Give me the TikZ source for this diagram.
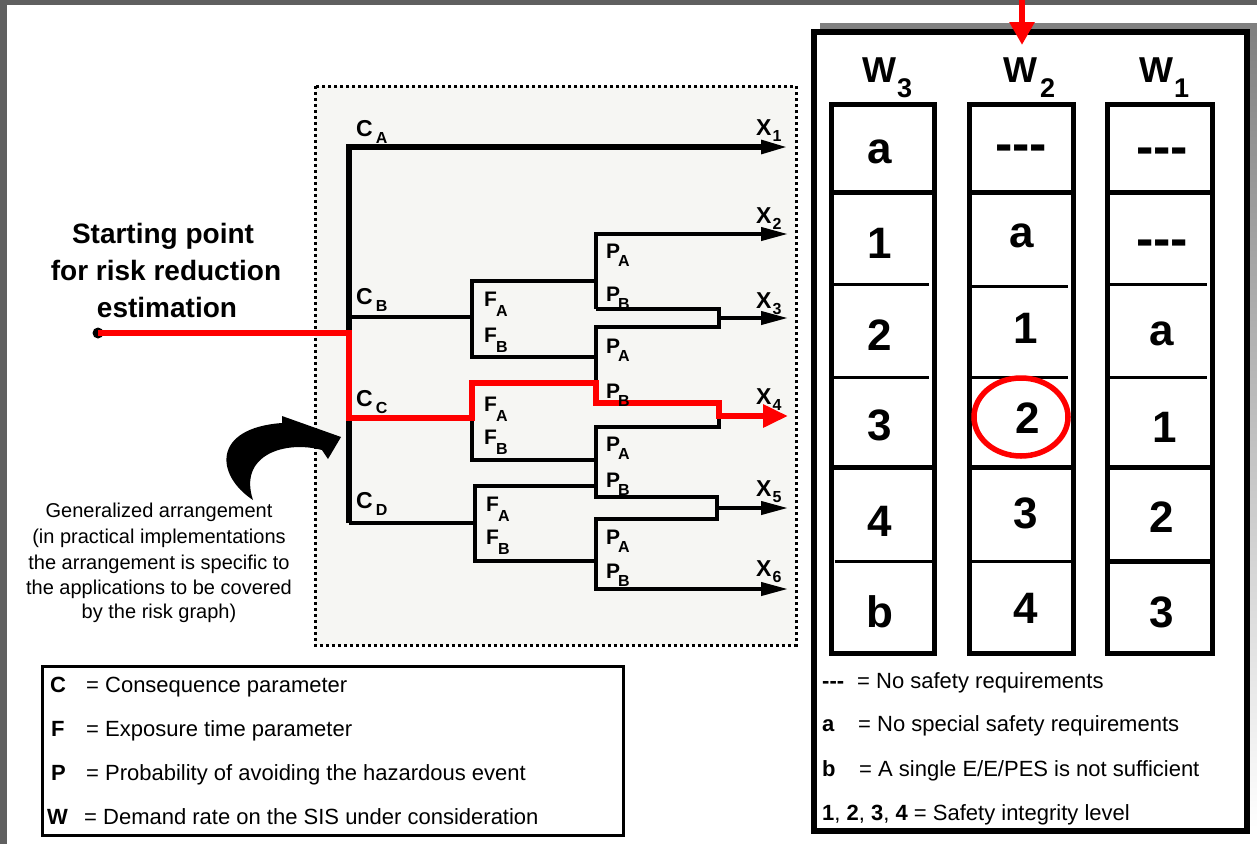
\documentclass[tikz,border=0pt]{standalone}
\usepackage{fontspec}
\setmainfont{Liberation Sans}
\usetikzlibrary{arrows.meta}
\definecolor{framegray}{HTML}{606060}
\definecolor{shade}{HTML}{C2C2B4}
\definecolor{panel}{HTML}{F6F6F3}
\definecolor{hired}{HTML}{FF0000}
\newcommand\fs[1]{\fontsize{#1}{#1}\selectfont}
% main letter, subscript, main size, kern, drop
\newcommand\lab[5]{{\fs{#3}\bfseries #1}\kern#4\raisebox{-#5}{\fs{16}\bfseries #2}}
\begin{document}
\begin{tikzpicture}[x=1pt,y=-1pt,
  trunk/.style={line width=5.5pt},
  branch/.style={line width=4pt},
  tipb/.style={-{Triangle[length=27pt,width=13pt]}},
  redp/.style={draw=hired,line width=6pt},
  lbl/.style={anchor=base west,inner sep=0pt},
  cell/.style={anchor=base,inner sep=0pt,font=\fs{44}\bfseries},
  dashcell/.style={anchor=base,inner sep=0pt,font=\fs{52}\bfseries},
  leg/.style={anchor=base west,inner sep=0pt,font=\fs{22}},
  txt/.style={anchor=base,inner sep=0pt},
  colbox/.style={line width=5pt},
  thickdiv/.style={line width=5pt},
  thindiv/.style={line width=3pt},
]
\useasboundingbox (0,0) rectangle (1257,844);
\fill[white] (0,0) rectangle (1257,844);
\fill[framegray] (0,0) rectangle (7,844);
\fill[framegray] (0,0) rectangle (1257,4.5);

% ---------- dotted panel ----------
\draw[line width=3pt, dash pattern=on 3pt off 3pt, fill=panel] (315,86) rectangle (796,645);

% ---------- coordinates of the tree ----------
\coordinate (cA) at (349,147);
\coordinate (cD) at (349,523);
\coordinate (x1) at (788,147);
\coordinate (cB) at (349,317);
\coordinate (f1) at (472,317);
\coordinate (f1a) at (472,281);
\coordinate (f1b) at (472,357);
\coordinate (q1a) at (596,281);
\coordinate (q1b) at (596,357);
\coordinate (cC) at (349,418);
\coordinate (f2) at (472,418);
\coordinate (f2a) at (472,383);
\coordinate (f2b) at (472,460);
\coordinate (q2a) at (596,383);
\coordinate (q2b) at (596,460);
\coordinate (f3) at (475,523);
\coordinate (f3a) at (475,486);
\coordinate (f3b) at (475,561);
\coordinate (q3a) at (596,486);
\coordinate (q3b) at (596,561);
\coordinate (pa1) at (596,234);
\coordinate (x2) at (788,234);
\coordinate (pb1) at (596,309);
\coordinate (m1a) at (719,309);
\coordinate (m1b) at (719,327);
\coordinate (pa2) at (596,327);
\coordinate (pb2) at (596,403);
\coordinate (m2a) at (719,403);
\coordinate (m2b) at (719,427);
\coordinate (pa3) at (596,427);
\coordinate (pb3) at (596,497);
\coordinate (m3a) at (717,497);
\coordinate (m3b) at (717,519);
\coordinate (pa4) at (596,519);
\coordinate (pb4) at (596,589);
\coordinate (x6) at (788,589);
\coordinate (m1) at (719,318);
\coordinate (x3) at (788,318);
\coordinate (m2) at (719,416);
\coordinate (x4) at (788,416);
\coordinate (m3) at (717,508);
\coordinate (x5) at (788,508);
\coordinate (r1) at (349,333);

% ---------- tree ----------
\draw[trunk,tipb] (cD) -- (cA) -- (x1);
\draw[branch] (cB) -- (f1);
\draw[branch] (q1a) -- (f1a) -- (f1b) -- (q1b);
\draw[branch] (cC) -- (f2);
\draw[branch] (q2a) -- (f2a) -- (f2b) -- (q2b);
\draw[branch] (cD) -- (f3);
\draw[branch] (q3a) -- (f3a) -- (f3b) -- (q3b);
\draw[branch,tipb] (pb1) -- (pa1) -- (x2);
\draw[branch,tipb] (pb1) -- (m1a) -- (m1b) -- (pa2) -- (pb2) -- (m2a) -- (m2b) -- (pa3) -- (pb3) -- (m3a) -- (m3b) -- (pa4) -- (pb4) -- (x6);
\draw[branch,tipb] (m1) -- (x3);
\draw[branch,tipb] (m3) -- (x5);

% ---------- red path ----------
\node[circle, fill=black, inner sep=0pt, minimum size=11pt] (start) at (98,333) {};
\draw[redp, -{Triangle[length=25pt,width=22pt]}] (start.center) -- (r1) -- (cC) -- (f2) -- (f2a) -- (q2a) -- (pb2) -- (m2a) -- (m2) -- (x4);

% ---------- tree labels ----------
\node[lbl] (lca) at (356,136) {\lab{C}{A}{23}{3pt}{7pt}};
\node[lbl] (lcb) at (356,304) {\lab{C}{B}{23}{3pt}{7pt}};
\node[lbl] (lcc) at (356,406) {\lab{C}{C}{23}{3pt}{7pt}};
\node[lbl] (lcd) at (356,508) {\lab{C}{D}{23}{3pt}{7pt}};
\node[lbl] (lf1a) at (484,306) {\lab{F}{A}{21}{-1pt}{10pt}};
\node[lbl] (lf1b) at (484,342) {\lab{F}{B}{21}{-1pt}{10pt}};
\node[lbl] (lf2a) at (484,411) {\lab{F}{A}{21}{-1pt}{10pt}};
\node[lbl] (lf2b) at (484,444) {\lab{F}{B}{21}{-1pt}{10pt}};
\node[lbl] (lf3a) at (486,511) {\lab{F}{A}{21}{-1pt}{10pt}};
\node[lbl] (lf3b) at (486,544) {\lab{F}{B}{21}{-1pt}{10pt}};
\node[lbl] (lp1a) at (606,258) {\lab{P}{A}{21}{-2pt}{8pt}};
\node[lbl] (lp1b) at (606,301) {\lab{P}{B}{21}{-2pt}{8pt}};
\node[lbl] (lp2a) at (606,353) {\lab{P}{A}{21}{-2pt}{8pt}};
\node[lbl] (lp2b) at (606,398) {\lab{P}{B}{21}{-2pt}{8pt}};
\node[lbl] (lp3a) at (606,451) {\lab{P}{A}{21}{-2pt}{8pt}};
\node[lbl] (lp3b) at (606,487) {\lab{P}{B}{21}{-2pt}{8pt}};
\node[lbl] (lp4a) at (606,544) {\lab{P}{A}{21}{-2pt}{8pt}};
\node[lbl] (lp4b) at (606,578) {\lab{P}{B}{21}{-2pt}{8pt}};
\node[lbl] (lx1) at (756,135) {\lab{X}{1}{23}{1pt}{6pt}};
\node[lbl] (lx2) at (756,223) {\lab{X}{2}{23}{1pt}{6pt}};
\node[lbl] (lx3) at (756,308) {\lab{X}{3}{23}{1pt}{6pt}};
\node[lbl] (lx4) at (756,404) {\lab{X}{4}{23}{1pt}{6pt}};
\node[lbl] (lx5) at (756,496) {\lab{X}{5}{23}{1pt}{6pt}};
\node[lbl] (lx6) at (756,576) {\lab{X}{6}{23}{1pt}{6pt}};

% ---------- starting point text ----------
\node[txt, font=\fs{28}\bfseries] (sp1) at (163,243) {Starting point};
\node[txt, font=\fs{28}\bfseries] (sp2) at (166,280) {for risk reduction};
\node[txt, font=\fs{28}\bfseries] (sp3) at (167,317) {estimation};

% ---------- curved arrow ----------
\fill (253,500) .. controls (215,475) and (212,428) .. (282,423) -- (282,416) -- (341,437) -- (328,459) -- (322,450) .. controls (285,440) and (238,455) .. (253,500) -- cycle;

% ---------- generalized text ----------
\node[txt, font=\fs{20}] (g1) at (159,517) {Generalized arrangement};
\node[txt, font=\fs{20}] (g2) at (159,543) {(in practical implementations};
\node[txt, font=\fs{20}] (g3) at (159,569) {the arrangement is specific to};
\node[txt, font=\fs{20}] (g4) at (159,594) {the applications to be covered};
\node[txt, font=\fs{20}] (g5) at (159,618) {by the risk graph)};

% ---------- left legend ----------
\draw[line width=3pt] (42,666) rectangle (623,835);
\node[leg, font=\fs{22}\bfseries] (lc) at (50,692) {C};
\node[leg] (lct) at (86,692) {= Consequence parameter};
\node[leg, font=\fs{22}\bfseries] (lf) at (51,736) {F};
\node[leg] (lft) at (86,736) {= Exposure time parameter};
\node[leg, font=\fs{22}\bfseries] (lp) at (51,780) {P};
\node[leg] (lpt) at (86,780) {= Probability of avoiding the hazardous event};
\node[leg, font=\fs{22}\bfseries] (lw) at (47,824) {W};
\node[leg] (lwt) at (84,824) {= Demand rate on the SIS under consideration};

% ---------- right panel ----------
\fill[shade] (820,23) rectangle (1257,829);
\draw[line width=6pt, fill=white] (814,32) rectangle (1247,831);

\coordinate (topin) at (1022,0);
\coordinate (topend) at (1022,45);
\draw[draw=hired, line width=6pt, -{Triangle[length=23pt,width=24pt]}] (topin) -- (topend);

\node[lbl] (hw3) at (862,82) {{\fs{36}\bfseries W}\kern1pt\raisebox{-15pt}{\fs{27}\bfseries 3}};
\node[lbl] (hw2) at (1003,82) {{\fs{36}\bfseries W}\kern3pt\raisebox{-15pt}{\fs{27}\bfseries 2}};
\node[lbl] (hw1) at (1139,82) {{\fs{36}\bfseries W}\kern1pt\raisebox{-15pt}{\fs{27}\bfseries 1}};

\draw[colbox] (831,104) rectangle (934,653);
\draw[colbox] (969,104) rectangle (1073,653);
\draw[colbox] (1107,104) rectangle (1212,653);

\draw[thickdiv] (831,192) -- (934,192);
\draw[thickdiv] (831,467) -- (934,467);
\draw[thindiv] (831,284) -- (929,284);
\draw[thindiv] (831,377) -- (929,377);
\draw[thindiv] (835,561) -- (934,561);

\draw[thickdiv] (969,192) -- (1073,192);
\draw[thickdiv] (969,467) -- (1073,467);
\draw[thindiv] (969,286) -- (1068,286);
\draw[thindiv] (969,377) -- (1068,377);
\draw[thindiv] (972,561) -- (1073,561);

\draw[thickdiv] (1107,192) -- (1212,192);
\draw[thickdiv] (1107,467) -- (1212,467);
\draw[thickdiv] (1107,561) -- (1212,561);
\draw[thindiv] (1107,284) -- (1207,284);
\draw[thindiv] (1107,377) -- (1207,377);

% cells W3
\node[cell] (c31) at (880,163) {a};
\node[cell] (c32) at (880,258) {1};
\node[cell] (c33) at (880,350) {2};
\node[cell] (c34) at (880,440) {3};
\node[cell] (c35) at (880,536) {4};
\node[cell] (c36) at (880,627) {b};
% cells W2
\node[dashcell] (c21) at (1021,161) {-{}-{}-};
\node[cell] (c22) at (1022,247) {a};
\node[cell] (c23) at (1026,343) {1};
\node[cell] (c24) at (1028,433) {2};
\node[cell] (c25) at (1026,528) {3};
\node[cell] (c26) at (1026,623) {4};
% cells W1
\node[dashcell] (c11) at (1162,164) {-{}-{}-};
\node[dashcell] (c12) at (1162,256) {-{}-{}-};
\node[cell] (c13) at (1162,345) {a};
\node[cell] (c14) at (1165,442) {1};
\node[cell] (c15) at (1162,532) {2};
\node[cell] (c16) at (1162,627) {3};

\draw[draw=hired, line width=5.5pt] (1021,417) ellipse [x radius=47pt, y radius=39pt];

% right legend
\node[leg, font=\fs{22}\bfseries] (rl1) at (822,688) {-{}-{}-};
\node[leg] (rl1t) at (857,688) {= No safety requirements};
\node[leg, font=\fs{22}\bfseries] (rl2) at (822,731) {a};
\node[leg] (rl2t) at (858,731) {= No special safety requirements};
\node[leg, font=\fs{22}\bfseries] (rl3) at (822,776) {b};
\node[leg] (rl3t) at (859,776) {= A single E/E/PES is not sufficient};
\node[leg] (rl4) at (822,820) {\textbf{1}, \textbf{2}, \textbf{3}, \textbf{4} = Safety integrity level};
\end{tikzpicture}
\end{document}
